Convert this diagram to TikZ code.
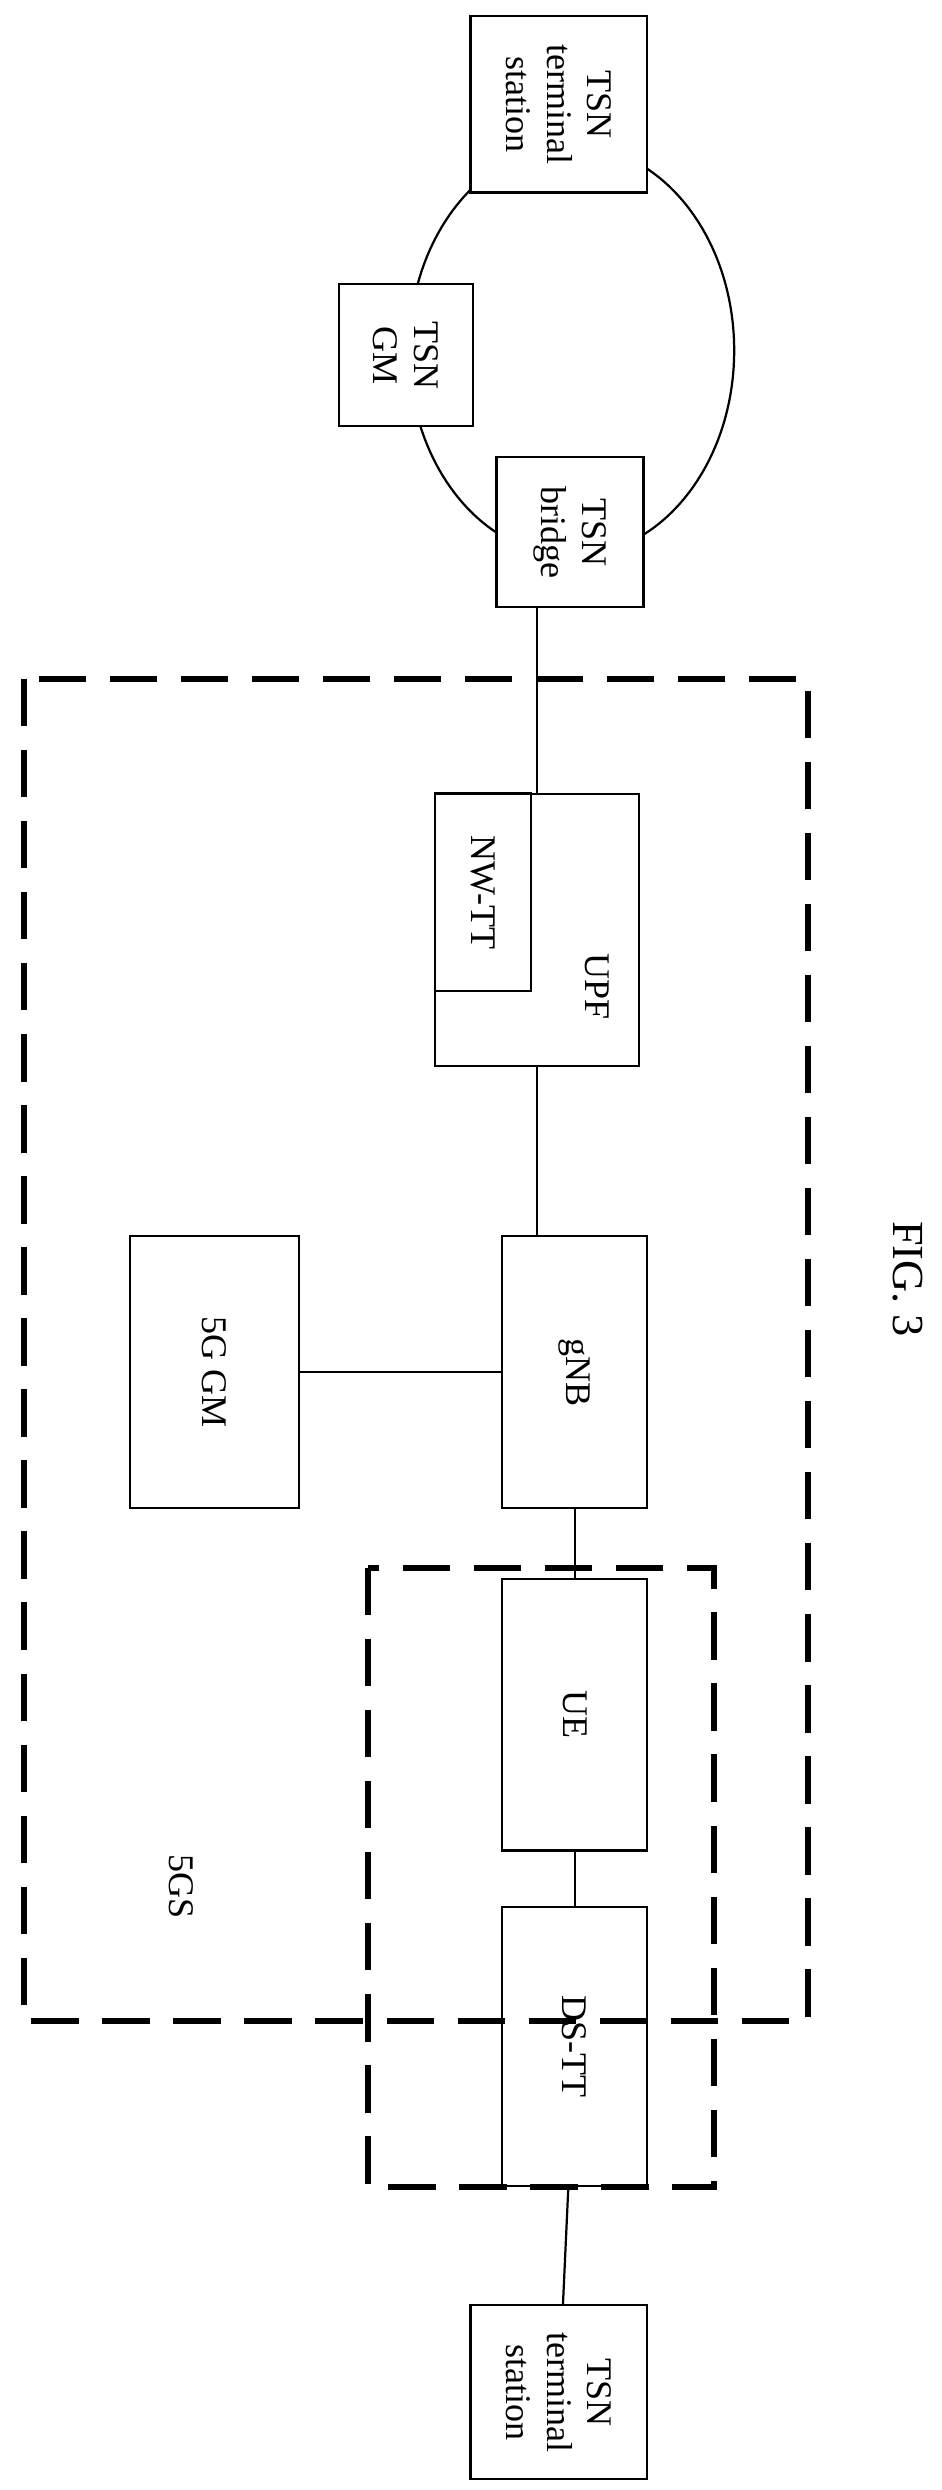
\documentclass[tikz,border=0pt]{standalone}
\usepackage{fontspec}
\setmainfont{Liberation Serif}
\usetikzlibrary{positioning}
\tikzset{
  blk/.style={draw, line width=0.8pt, rotate=-90, align=center, inner sep=2pt,
    font=\fontsize{13}{14.5}\selectfont},
  zone/.style={line width=2.2pt, dash pattern=on 0.6cm off 0.3cm},
  wire/.style={line width=0.8pt}
}
\begin{document}
\begin{tikzpicture}[x=0.02cm, y=-0.02cm]
  \useasboundingbox (0,0) rectangle (596,1577);
  % dashed areas
  \draw[zone] (15,430) rectangle (512,1280);
  \draw[zone] (233,993) rectangle (452,1385);
  \node[rotate=-90, font=\fontsize{13}{14.5}\selectfont] (sgs) at (115,1195) {5GS};
  % blocks
  \node[blk, minimum width=2.2cm, minimum height=2.24cm] (tsnl) at (354,1515) {TSN\\terminal\\station};
  \node[blk, minimum width=3.54cm, minimum height=1.84cm] (dstt) at (364,1296) {DS-TT};
  \node[blk, minimum width=3.44cm, minimum height=1.84cm] (ue) at (364,1086) {UE};
  \node[blk, minimum width=3.44cm, minimum height=1.84cm] (gnb) at (364,869) {gNB};
  \node[blk, minimum width=3.44cm, minimum height=2.14cm] (gm) at (136,869) {5G GM};
  \node[blk, minimum width=3.44cm, minimum height=2.58cm] (upf) at (340,589) {};
  \node[rotate=-90, font=\fontsize{13}{14.5}\selectfont] (upft) at (378,625) {UPF};
  \node[blk, minimum width=2.5cm, minimum height=1.22cm] (nwtt) at (306,565) {NW-TT};
  \node[blk, minimum width=1.9cm, minimum height=1.86cm, fill=white] (br) at (361,337) {TSN\\bridge};
  \node[blk, minimum width=1.8cm, minimum height=1.7cm] (tgm) at (257,225) {TSN\\GM};
  \node[blk, minimum width=2.24cm, minimum height=2.24cm] (tsnr) at (354,66) {TSN\\terminal\\station};
  % ring
  \begin{scope}[on background layer/.try]
  \end{scope}
  \draw[wire] (362,222) ellipse [x radius=2.06cm, y radius=2.6cm];
  \node[blk, minimum width=1.9cm, minimum height=1.86cm, fill=white] at (361,337) {TSN\\bridge};
  \node[blk, minimum width=1.8cm, minimum height=1.7cm, fill=white] at (257,225) {TSN\\GM};
  \node[blk, minimum width=2.24cm, minimum height=2.24cm, fill=white] at (354,66) {TSN\\terminal\\station};
  % links
  \draw[wire] (tsnl) -- (dstt);
  \draw[wire] (dstt) -- (ue);
  \draw[wire] (ue) -- (gnb);
  \draw[wire] (gm) -- (gnb);
  \draw[wire] (gnb) -- (upf.center |- gnb.west) -- (upf.center |- upf.east);
  \draw[wire] (br) -- (upf.center |- br.east) -- (upf.center |- upf.west);
  \node[rotate=-90, font=\fontsize{16}{18}\selectfont] (fig) at (575,810) {FIG. 3};
\end{tikzpicture}
\end{document}
